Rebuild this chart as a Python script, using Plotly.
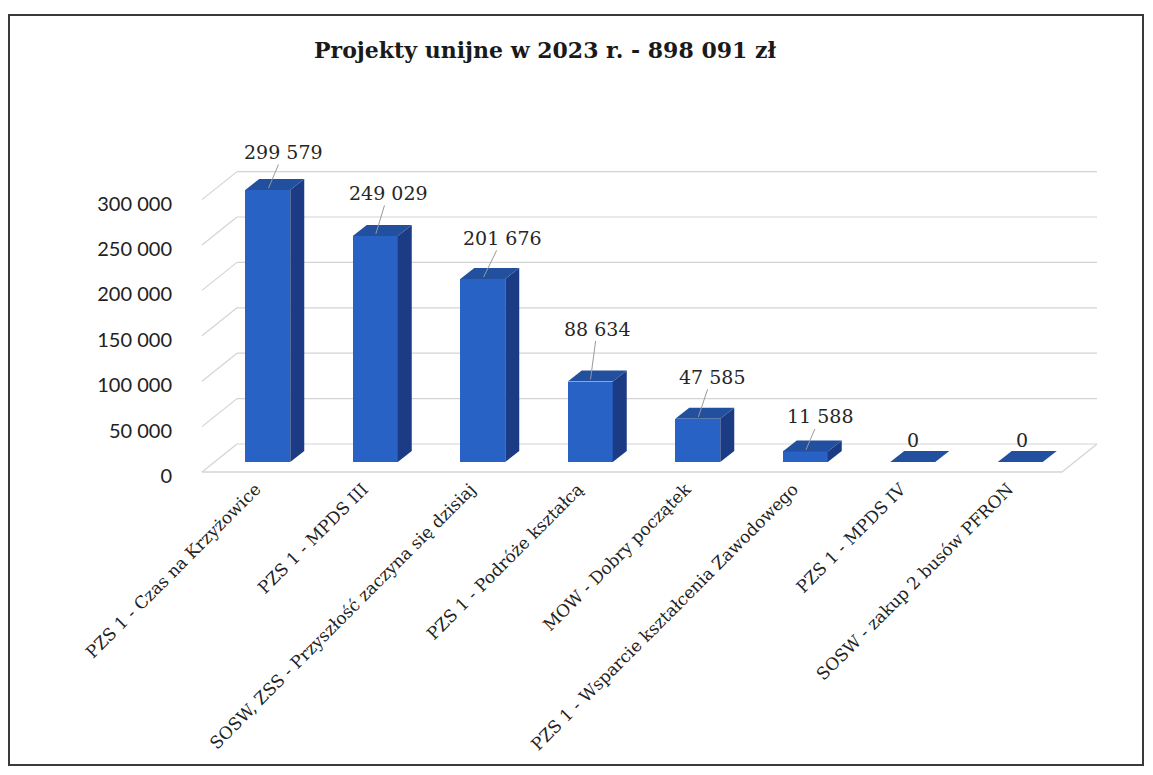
import plotly.graph_objects as go

# ---------------- data ----------------
categories = [
    "PZS 1 - Czas na Krzyżowice",
    "PZS 1 - MPDS III",
    "SOSW, ZSS - Przyszłość zaczyna się dzisiaj",
    "PZS 1 - Podróże kształcą",
    "MOW - Dobry początek",
    "PZS 1 - Wsparcie kształcenia Zawodowego",
    "PZS 1 - MPDS IV",
    "SOSW - zakup 2 busów PFRON",
]
values = [299579, 249029, 201676, 88634, 47585, 11588, 0, 0]
y_tick_values = [0, 50000, 100000, 150000, 200000, 250000, 300000]
title_text = "Projekty unijne w 2023 r. - 898 091 zł"

# label offsets (pixels) from each bar's top, style only
label_dx = [16, 13, 20, 7, 14, 15, 0, 2]
label_dy = [-38, -43, -41, -53, -42, -35, -22, -22]

# ---------------- layout geometry ----------------
OFF = 8            # default page margin of the html body
W, H = 1153 - 2 * OFF, 775 - 2 * OFF
PAD = 3
FRONT_LEFT = 202 - OFF
FLOOR_Y = 472 - OFF
PLOT_TOP = 140 - OFF
PLOT_RIGHT = 1101 - OFF
ML, MR, MT, MB = FRONT_LEFT - PAD, W - PLOT_RIGHT, PLOT_TOP, H - FLOOR_Y - PAD
PX_PER_CAT = 107.5
PX_PER_UNIT = 272.4 / 300000
plot_w = W - ML - MR
plot_h = H - MT - MB
x0_range = -0.5 - PAD / PX_PER_CAT
y0_range = -PAD / PX_PER_UNIT
x_range = [x0_range, x0_range + plot_w / PX_PER_CAT]
y_range = [y0_range, y0_range + plot_h / PX_PER_UNIT]


def cx(px):
    return px / PX_PER_CAT


def cy(px):
    return px / PX_PER_UNIT


WALL_DX, WALL_DY = cx(35), cy(28)
BAR_DX, BAR_DY = cx(12), cy(10)
DEPTH_DX, DEPTH_DY = cx(14), cy(11)
BAR_W = cx(45)

FRONT = "#2762c4"
SIDE = "#1b3b84"
TOP = "#22509f"
GRID = "#d4d4d4"

xs = list(range(len(categories)))
x_left, x_right = -0.5, len(categories) - 0.5

fig = go.Figure()
fig.add_trace(go.Bar(
    x=xs, y=values, base=BAR_DY, width=BAR_W, offset=BAR_DX - BAR_W / 2,
    marker=dict(color=FRONT, line=dict(width=0)), hoverinfo="skip",
))

shapes = []
# back wall + side wall gridlines
for v in y_tick_values:
    shapes.append(dict(type="line", xref="x", yref="y", layer="below",
                       x0=x_left + WALL_DX, y0=v + WALL_DY, x1=x_right + WALL_DX, y1=v + WALL_DY,
                       line=dict(color=GRID, width=1.2)))
    shapes.append(dict(type="line", xref="x", yref="y", layer="below",
                       x0=x_left, y0=v, x1=x_left + WALL_DX, y1=v + WALL_DY,
                       line=dict(color=GRID, width=1.2)))
# floor edges
shapes.append(dict(type="line", xref="x", yref="y", layer="below",
                   x0=x_left, y0=0, x1=x_right, y1=0, line=dict(color=GRID, width=1.5)))
shapes.append(dict(type="line", xref="x", yref="y", layer="below",
                   x0=x_right, y0=0, x1=x_right + WALL_DX, y1=WALL_DY, line=dict(color=GRID, width=1.2)))

# 3D faces of bars
for i, v in zip(xs, values):
    xl = i + BAR_DX - BAR_W / 2
    xr = xl + BAR_W
    bot = BAR_DY
    top = BAR_DY + v
    if v > 0:
        shapes.append(dict(type="path", xref="x", yref="y", layer="above",
                           path=f"M{xr},{bot} L{xr},{top} L{xr + DEPTH_DX},{top + DEPTH_DY} L{xr + DEPTH_DX},{bot + DEPTH_DY} Z",
                           fillcolor=SIDE, line=dict(width=0)))
    shapes.append(dict(type="path", xref="x", yref="y", layer="above",
                       path=f"M{xl},{top} L{xl + DEPTH_DX},{top + DEPTH_DY} L{xr + DEPTH_DX},{top + DEPTH_DY} L{xr},{top} Z",
                       fillcolor=TOP, line=dict(width=0)))


# outer frame (figure pixel -> paper)
def px_to_paper_x(px):
    return (px - ML) / plot_w


def py_to_paper_y(py):
    return (H - MB - py) / plot_h


shapes.append(dict(type="rect", xref="paper", yref="paper",
                   x0=px_to_paper_x(1), x1=px_to_paper_x(W - 2),
                   y0=py_to_paper_y(H - 2), y1=py_to_paper_y(15 - OFF),
                   line=dict(color="#3a3a3a", width=2), fillcolor="rgba(0,0,0,0)"))

annotations = []
for i, v in enumerate(values):
    txt = f"{v:,}".replace(",", " ")
    ax_ = i + BAR_DX
    ay_ = BAR_DY + v
    if v > 0:
        annotations.append(dict(x=ax_, y=ay_, xref="x", yref="y", text=txt,
                                showarrow=True, arrowhead=0, arrowwidth=1, arrowcolor="#9a9a9a",
                                ax=label_dx[i], ay=label_dy[i], standoff=2,
                                font=dict(family="DejaVu Serif", size=19, color="#262626")))
    else:
        annotations.append(dict(x=ax_, y=ay_, xref="x", yref="y", text=txt,
                                showarrow=False, xshift=label_dx[i], yshift=-label_dy[i],
                                font=dict(family="DejaVu Serif", size=19, color="#262626")))

fig.update_layout(
    width=W, height=H,
    margin=dict(l=ML, r=MR, t=MT, b=MB),
    paper_bgcolor="white", plot_bgcolor="white",
    separators=", ",
    showlegend=False,
    title=dict(text=title_text, x=(545 - OFF) / W, xanchor="center", y=1 - (50 - OFF) / H, yanchor="middle",
               font=dict(family="DejaVu Serif", size=22, color="#1a1a1a", weight="bold")),
    shapes=shapes,
    annotations=annotations,
    bargap=0,
)
fig.update_xaxes(range=x_range, tickvals=xs, ticktext=categories, tickangle=-45,
                 showgrid=False, zeroline=False, showline=False, ticks="",
                 tickfont=dict(family="DejaVu Serif", size=17, color="#222222"))
fig.update_yaxes(range=y_range, tickvals=y_tick_values, tickformat=",d",
                 showgrid=False, zeroline=False, showline=False,
                 ticks="outside", ticklen=22, tickcolor="rgba(0,0,0,0)",
                 ticklabelshift=4,
                 tickfont=dict(family="Lato", size=20, color="#222222"))

fig.write_html("out.html")
